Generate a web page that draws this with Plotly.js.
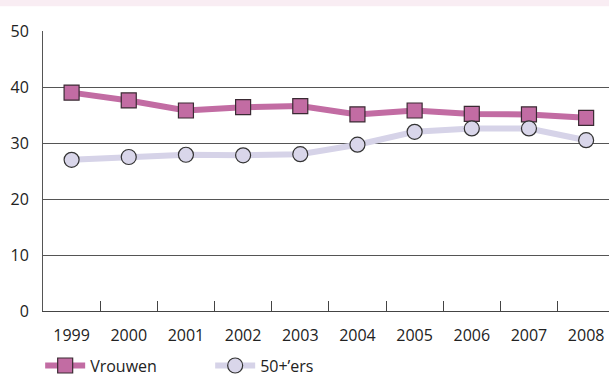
<!DOCTYPE html>
<html>
<head>
<meta charset="utf-8">
<script src="https://cdn.plot.ly/plotly-3.0.1.min.js"></script>
<style>html,body{margin:0;padding:0;background:#fff;overflow:hidden}</style>
</head>
<body>
<div id="chart" style="width:609px;height:383px"></div>
<script>
const years = ['1999','2000','2001','2002','2003','2004','2005','2006','2007','2008'];
const vrouwen = [39.0, 37.6, 35.8, 36.4, 36.6, 35.1, 35.8, 35.2, 35.1, 34.5];
const vijftigPlus = [27.0, 27.5, 27.9, 27.8, 28.0, 29.7, 32.0, 32.6, 32.6, 30.5];
const seriesNames = ['Vrouwen', '50+\u2019ers'];
const yTicks = [0, 10, 20, 30, 40, 50];

const traces = [
  {
    x: years, y: vrouwen, name: seriesNames[0], type: 'scatter', mode: 'lines+markers',
    line: {color: '#c26ca3', width: 6},
    marker: {symbol: 'square', size: 15, color: '#c26ca3', line: {color: '#3a2a33', width: 1.2}}
  },
  {
    x: years, y: vijftigPlus, name: seriesNames[1], type: 'scatter', mode: 'lines+markers',
    line: {color: '#d6d3e8', width: 6},
    marker: {symbol: 'circle', size: 15, color: '#d9d6ea', line: {color: '#333', width: 1.2}}
  }
];

const layout = {
  width: 609, height: 383,
  margin: {l: 43, r: 0, t: 31, b: 69},
  paper_bgcolor: '#fff', plot_bgcolor: '#fff',
  font: {family: 'Open Sans, sans-serif', size: 16, color: '#222'},
  showlegend: true,
  legend: {orientation: 'h', x: -0.005, xanchor: 'left', y: -0.195, yanchor: 'middle',
           itemwidth: 40, entrywidth: 115, entrywidthmode: 'pixels',
           font: {size: 16, color: '#222'}, traceorder: 'normal'},
  xaxis: {
    type: 'category', range: [-0.5, 9.4], tickson: 'boundaries',
    ticks: 'inside', ticklen: 10, tickcolor: '#444', tickwidth: 1,
    showline: true, linecolor: '#444', linewidth: 1.2,
    showgrid: false, ticklabelstandoff: 10, fixedrange: true
  },
  yaxis: {
    range: [0, 50], tickvals: yTicks, ticktext: yTicks.map(String),
    showgrid: true, gridcolor: '#555', gridwidth: 1,
    showline: true, linecolor: '#555', linewidth: 1,
    zeroline: false, ticks: '', ticklabelstandoff: 10, fixedrange: true
  },
  shapes: [
    {type: 'rect', xref: 'paper', yref: 'paper', x0: -0.1, x1: 1.1, y0: 1.088, y1: 1.12,
     fillcolor: '#f9edf3', line: {width: 0}, layer: 'below'}
  ]
};

Plotly.newPlot('chart', traces, layout, {displayModeBar: false, staticPlot: true});
</script>
</body>
</html>
